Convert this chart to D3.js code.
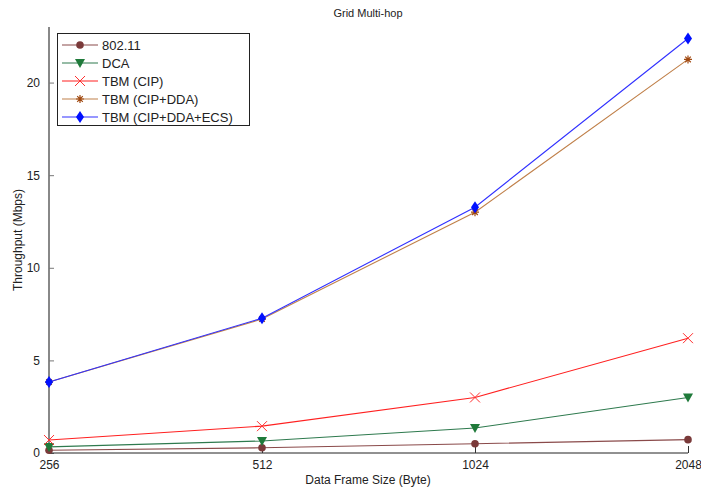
<!DOCTYPE html>
<html>
<head>
<meta charset="utf-8">
<script src="https://cdn.jsdelivr.net/npm/d3@7"></script>
<style>
  body { margin: 0; background: #fff; }
  svg { display: block; font-family: Arial, "Liberation Sans", sans-serif; }
</style>
</head>
<body>
<svg id="chart" width="701" height="490"></svg>
<script>
// Frame sizes (bytes) on the x axis
const frameSizes = ["256", "512", "1024", "2048"];

// Throughput (Mbps) for each scheme
const ieee80211 = [0.15, 0.28, 0.50, 0.72];
const dca = [0.33, 0.65, 1.35, 3.0];
const tbmCip = [0.70, 1.45, 3.0, 6.2];
const tbmCipDda = [3.83, 7.23, 13.0, 21.25];
const tbmCipDdaEcs = [3.83, 7.28, 13.27, 22.38];

const yTicks = [0, 5, 10, 15, 20];

const series = [
  { name: "802.11", values: ieee80211, line: "#8a4a4a", fill: "#7a3a3a", marker: "circle" },
  { name: "DCA", values: dca, line: "#2e7a4e", fill: "#1f7a3a", marker: "tri" },
  { name: "TBM (CIP)", values: tbmCip, line: "#ff2020", fill: "#ff3030", marker: "x" },
  { name: "TBM (CIP+DDA)", values: tbmCipDda, line: "#c0804a", fill: "#a04810", marker: "star" },
  { name: "TBM (CIP+DDA+ECS)", values: tbmCipDdaEcs, line: "#3030ff", fill: "#0010ff", marker: "diamond" }
];

const svg = d3.select("#chart");
const plotLeft = 49, plotRight = 688, plotTop = 27, plotBottom = 453;

const x = d3.scalePoint().domain(frameSizes).range([plotLeft, plotRight]);
const y = d3.scaleLinear().domain([0, 23]).range([plotBottom, plotTop]);

// Title and axis labels
svg.append("text").attr("x", 368).attr("y", 17).attr("text-anchor", "middle")
  .attr("font-size", 11).attr("fill", "#222").text("Grid Multi-hop");
svg.append("text").attr("x", 368).attr("y", 484).attr("text-anchor", "middle")
  .attr("font-size", 12).attr("fill", "#222").text("Data Frame Size (Byte)");
svg.append("text").attr("transform", "translate(22,240) rotate(-90)").attr("text-anchor", "middle")
  .attr("font-size", 12).attr("fill", "#222").text("Throughput (Mbps)");

// Y axis: gray spine, inward ticks
const yAxis = svg.append("g").attr("transform", `translate(${plotLeft},0)`)
  .call(d3.axisLeft(y).tickValues(yTicks).tickSize(-5).tickPadding(9).tickSizeOuter(0));
yAxis.select(".domain").attr("stroke", "#888").attr("stroke-width", 2).attr("d", `M0,${plotBottom}V${plotTop}`);
yAxis.selectAll(".tick line").attr("stroke", "#777");
yAxis.selectAll(".tick text").attr("font-size", 12).attr("fill", "#222").attr("font-family", "Arial, Liberation Sans, sans-serif");

// X axis: dark spine, upward ticks
const xAxis = svg.append("g").attr("transform", `translate(0,${plotBottom})`)
  .call(d3.axisBottom(x).tickSize(-7).tickPadding(5).tickSizeOuter(0));
xAxis.select(".domain").attr("stroke", "#222").attr("d", `M${plotLeft},0H${plotRight}`);
xAxis.selectAll(".tick line").attr("stroke", "#333");
xAxis.selectAll(".tick text").attr("font-size", 12).attr("fill", "#222").attr("dy", "0.9em").attr("font-family", "Arial, Liberation Sans, sans-serif");

// Marker shapes
function drawMarker(g, type, cx, cy, s) {
  if (type === "circle") {
    g.append("circle").attr("cx", cx).attr("cy", cy).attr("r", 3.8).attr("fill", s.fill);
  } else if (type === "tri") {
    g.append("path").attr("d", `M${cx - 5},${cy - 4}L${cx + 5},${cy - 4}L${cx},${cy + 5}Z`).attr("fill", s.fill);
  } else if (type === "x") {
    g.append("path").attr("d", `M${cx - 5},${cy - 5}L${cx + 5},${cy + 5}M${cx - 5},${cy + 5}L${cx + 5},${cy - 5}`)
      .attr("stroke", s.fill).attr("stroke-width", 1).attr("fill", "none");
  } else if (type === "star") {
    g.append("path").attr("d", `M${cx - 4},${cy}H${cx + 4}M${cx},${cy - 4}V${cy + 4}M${cx - 2.8},${cy - 2.8}L${cx + 2.8},${cy + 2.8}M${cx - 2.8},${cy + 2.8}L${cx + 2.8},${cy - 2.8}`)
      .attr("stroke", s.fill).attr("stroke-width", 1.2).attr("fill", "none");
  } else if (type === "diamond") {
    g.append("path").attr("d", `M${cx},${cy - 6}L${cx + 4},${cy}L${cx},${cy + 6}L${cx - 4},${cy}Z`).attr("fill", s.fill);
  }
}

const line = d3.line().x((d, i) => x(frameSizes[i])).y(d => y(d));

series.forEach(s => {
  const g = svg.append("g");
  g.append("path").attr("d", line(s.values)).attr("fill", "none")
    .attr("stroke", s.line).attr("stroke-width", 1.1);
  s.values.forEach((v, i) => drawMarker(g, s.marker, x(frameSizes[i]), y(v), s));
});

// Legend
const lg = svg.append("g");
lg.append("rect").attr("x", 57.5).attr("y", 33.5).attr("width", 192).attr("height", 92)
  .attr("fill", "#fff").attr("stroke", "#222").attr("stroke-width", 1);
series.forEach((s, i) => {
  const ly = 45 + i * 18;
  lg.append("line").attr("x1", 62).attr("x2", 98).attr("y1", ly).attr("y2", ly)
    .attr("stroke", s.line).attr("stroke-width", 1.1);
  drawMarker(lg, s.marker, 80, ly, s);
  lg.append("text").attr("x", 102).attr("y", ly + 4.5).attr("font-size", 13).attr("fill", "#222").text(s.name);
});
</script>
</body>
</html>
